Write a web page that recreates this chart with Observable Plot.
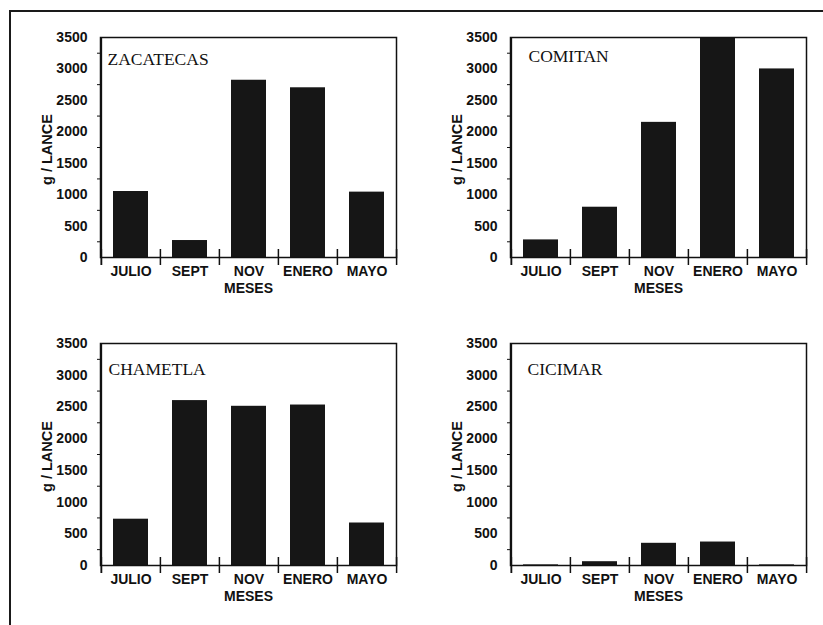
<!DOCTYPE html>
<html>
<head>
<meta charset="utf-8">
<script src="https://cdn.jsdelivr.net/npm/d3@7"></script>
<script src="https://cdn.jsdelivr.net/npm/@observablehq/plot@0.6"></script>
<style>
  html, body { margin: 0; padding: 0; background: #fff; }
  #wrap { position: relative; width: 823px; height: 625px; background: #fff; overflow: hidden; }
  #border { position: absolute; left: 9px; top: 10px; width: 830px; height: 640px;
            border-top: 2px solid #1a1a1a; border-left: 2px solid #1a1a1a; box-sizing: border-box; }
  .panel { position: absolute; }
</style>
</head>
<body>
<div id="wrap"><div id="border"></div></div>
<script>
// ---- data ----
const months = ["JULIO", "SEPT", "NOV", "ENERO", "MAYO"];
const siteNames = ["ZACATECAS", "COMITAN", "CHAMETLA", "CICIMAR"];
const zacatecas = [1050, 270, 2820, 2700, 1040];
const comitan   = [280, 800, 2150, 3500, 3000];
const chametla  = [730, 2600, 2510, 2530, 670];
const cicimar   = [10, 60, 350, 370, 10];
const yTickLabels = [0, 500, 1000, 1500, 2000, 2500, 3000, 3500];
const yMinorTicks = [250, 750, 1250, 1750, 2250, 2750, 3250];
const xLabel = "MESES";
const yLabel = "g / LANCE";

// ---- layout ----
const W = 410, H = 300, ML = 100, MR = 14;
const panels = [
  {name: siteNames[0], values: zacatecas, left: 0,   top: 0,   mt: 37, ph: 220, ndx: 7,  ndy: 22},
  {name: siteNames[1], values: comitan,   left: 410, top: 0,   mt: 37, ph: 220, ndx: 18, ndy: 19},
  {name: siteNames[2], values: chametla,  left: 0,   top: 306, mt: 37, ph: 222, ndx: 8,  ndy: 26},
  {name: siteNames[3], values: cicimar,   left: 410, top: 306, mt: 37, ph: 222, ndx: 17, ndy: 26}
];

const wrap = document.getElementById("wrap");
for (const p of panels) {
  const bw = (W - ML - MR) / months.length;
  const data = months.map((m, i) => ({month: m, value: p.values[i]}));
  const chart = Plot.plot({
    width: W,
    height: H,
    marginLeft: ML,
    marginRight: MR,
    marginTop: p.mt,
    marginBottom: H - p.mt - p.ph,
    x: {domain: months, padding: 0, axis: null},
    y: {domain: [0, 3500], axis: null, clamp: true},
    style: {fontFamily: "Liberation Sans", fontWeight: "bold", fontSize: "14px", color: "#111", background: "transparent", overflow: "visible"},
    marks: [
      Plot.barY(data, {x: "month", y: "value", fill: "#161616", insetLeft: 12, insetRight: 12}),
      Plot.frame({stroke: "#111", strokeWidth: 1.5}),
      Plot.axisY({ticks: yTickLabels, tickSize: 0, tickPadding: 13, label: null, tickFormat: d => String(d)}),
      Plot.axisY({ticks: yMinorTicks, tickSize: 5, dx: 2, label: null, tickFormat: () => ""}),
      Plot.ruleX(months, {x: d => d, dx: -bw / 2, insetTop: p.ph - 8, insetBottom: -8, stroke: "#111", strokeWidth: 1.5}),
      Plot.ruleX(months.slice(-1), {x: d => d, dx: bw / 2, insetTop: p.ph - 8, insetBottom: -8, stroke: "#111", strokeWidth: 1.5}),
      Plot.ruleX(months.slice(0, 1), {x: d => d, dx: -bw / 2, insetTop: 0, insetBottom: -8, stroke: "#111", strokeWidth: 1.5}),
      Plot.axisX({tickSize: 0, tickPadding: 9, label: null}),
      Plot.text([xLabel], {frameAnchor: "bottom", dy: 31, text: d => d, lineAnchor: "middle", textAnchor: "middle"}),
      Plot.text([yLabel], {frameAnchor: "left", rotate: -90, dx: -53, dy: 2, text: d => d, lineAnchor: "middle", textAnchor: "middle", fontSize: 14.5}),
      Plot.text([p.name], {frameAnchor: "top-left", dx: p.ndx, dy: p.ndy, text: d => d, textAnchor: "start", lineAnchor: "middle",
                           fontFamily: "Liberation Serif", fontWeight: "normal", fontSize: 17.5})
    ]
  });
  const holder = document.createElement("div");
  holder.className = "panel";
  holder.style.left = p.left + "px";
  holder.style.top = p.top + "px";
  holder.appendChild(chart);
  wrap.appendChild(holder);
}
</script>
</body>
</html>
